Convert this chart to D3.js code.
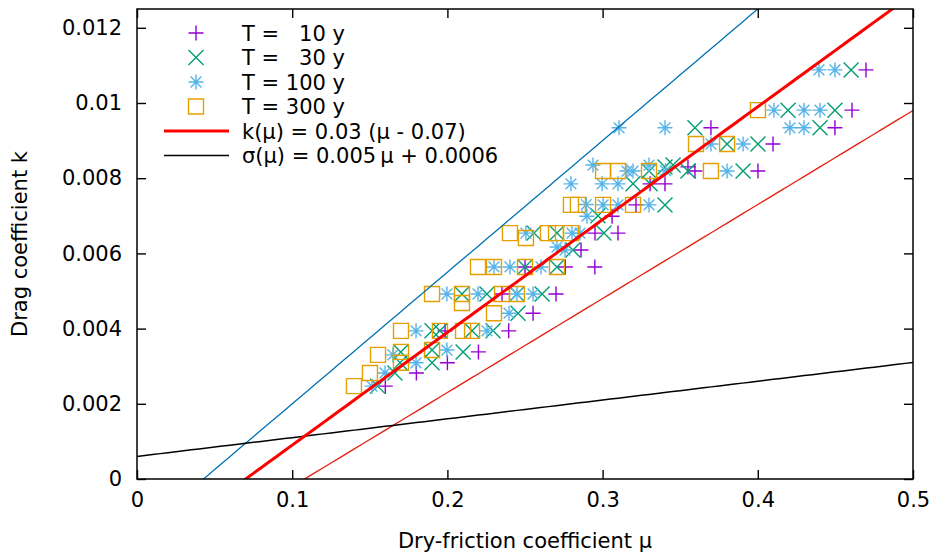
<!DOCTYPE html>
<html><head><meta charset="utf-8">
<script src="https://cdn.jsdelivr.net/npm/d3@7"></script>
<style>
html,body{margin:0;padding:0;background:#fff;}
text{font-family:"DejaVu Sans",sans-serif;}
</style></head>
<body><svg id="c" width="934" height="556"></svg>
<script>
// ---- data: [mu, k] pairs ----
const seriesLabels = ["T =   10 y", "T =   30 y", "T = 100 y", "T = 300 y"];
const t10 = [[0.160,0.00247],[0.180,0.00282],[0.200,0.00309],[0.220,0.00338],[0.1985,0.00394],[0.2395,0.00394],
 [0.2552,0.00441],[0.2352,0.00492],[0.270,0.00492],[0.250,0.00564],[0.276,0.00564],[0.295,0.00564],[0.2861,0.00609],
 [0.2951,0.00654],[0.3099,0.00654],[0.3061,0.00699],[0.3215,0.00729],[0.3306,0.00785],[0.3402,0.00785],
 [0.355,0.0083],[0.3595,0.00819],[0.4001,0.00819],[0.3698,0.00934],[0.4098,0.00891],[0.4497,0.00934],
 [0.4607,0.00981],[0.4697,0.01088]];
const t30 = [[0.155,0.00247],[0.1662,0.00282],[0.1695,0.00309],[0.1901,0.00309],[0.170,0.00338],[0.1901,0.00343],
 [0.2101,0.00338],[0.1901,0.00394],[0.1952,0.00394],[0.2159,0.00394],[0.2294,0.00394],[0.2455,0.00441],
 [0.2094,0.00492],[0.2255,0.00492],[0.2448,0.00492],[0.2610,0.00492],[0.250,0.00564],[0.2706,0.00564],
 [0.2809,0.00609],[0.2558,0.00654],[0.2706,0.00654],[0.3009,0.00654],[0.297,0.0070],[0.3402,0.00729],
 [0.3196,0.00785],[0.3306,0.00785],[0.3299,0.00819],[0.3402,0.0083],[0.3454,0.00835],[0.355,0.00819],[0.3905,0.00819],
 [0.3595,0.00934],[0.3802,0.00891],[0.4001,0.00891],[0.4401,0.00934],[0.4195,0.00981],[0.4497,0.00981],[0.4601,0.01088]];
const t100 = [[0.1514,0.00247],[0.1598,0.00282],[0.1649,0.0033],[0.1798,0.00309],[0.1997,0.00343],[0.1798,0.00394],
 [0.2255,0.00394],[0.2397,0.00441],[0.1997,0.00492],[0.2197,0.00492],[0.2448,0.00492],[0.2552,0.00492],
 [0.230,0.00564],[0.2403,0.00564],[0.2603,0.00564],[0.2706,0.00617],[0.2758,0.00609],[0.2506,0.00654],
 [0.2803,0.00654],[0.2854,0.00654],[0.2899,0.00699],[0.2895,0.0073],[0.3003,0.00729],[0.3099,0.00729],[0.3299,0.00729],
 [0.2796,0.00785],[0.2997,0.00785],[0.3099,0.00785],[0.2938,0.00835],[0.3157,0.00819],[0.3196,0.00819],
 [0.3299,0.00835],[0.3405,0.0082],[0.3802,0.00819],[0.3106,0.00934],[0.3402,0.00934],[0.3698,0.00891],
 [0.3905,0.00891],[0.4207,0.00934],[0.4298,0.00934],[0.4104,0.00981],[0.4298,0.00981],[0.4401,0.00981],
 [0.4394,0.01088],[0.4497,0.01088]];
const t300 = [[0.1398,0.00247],[0.1501,0.00282],[0.1553,0.0033],[0.1701,0.00338],[0.1701,0.00309],[0.1901,0.00343],
 [0.1701,0.00394],[0.1952,0.00394],[0.2101,0.00394],[0.2159,0.00394],[0.230,0.00441],[0.1901,0.00492],
 [0.2094,0.00492],[0.2094,0.00468],[0.2352,0.00492],[0.2448,0.00492],[0.2197,0.00564],[0.230,0.00564],
 [0.250,0.00564],[0.2706,0.00564],[0.2403,0.00654],[0.2506,0.00641],[0.2648,0.00654],[0.270,0.00654],
 [0.2796,0.00654],[0.2796,0.00729],[0.2841,0.00729],[0.3003,0.00729],[0.3196,0.00729],[0.3003,0.00819],
 [0.3099,0.00819],[0.3299,0.00819],[0.3698,0.00819],[0.3602,0.00891],[0.3802,0.00891],[0.4001,0.00981]];
const lineLabels = ["k(\u03bc) = 0.03 (\u03bc - 0.07)", "\u03c3(\u03bc) = 0.005\u2009\u03bc + 0.0006"];
const xTicks = [0, 0.1, 0.2, 0.3, 0.4, 0.5];
const xTickLabels = ["0", "0.1", "0.2", "0.3", "0.4", "0.5"];
const yTicks = [0, 0.002, 0.004, 0.006, 0.008, 0.01, 0.012];
const yTickLabels = ["0", "0.002", "0.004", "0.006", "0.008", "0.01", "0.012"];
const xTitle = "Dry-friction coefficient \u03bc";
const yTitle = "Drag coefficient k";
// fit parameters
const kA = 0.03, kMu0 = 0.07, sA = 0.005, sB = 0.0006;

// ---- drawing ----
const svg = d3.select("#c");
const L = 137, R = 913, T = 9, B = 479;
const x = d3.scaleLinear().domain([0, 0.5]).range([L, R]);
const y = d3.scaleLinear().domain([0, 0.0125]).range([B, T]);
const FS = 21;

svg.append("defs").append("clipPath").attr("id","clip")
  .append("rect").attr("x",L).attr("y",T).attr("width",R-L).attr("height",B-T);

const colors = ["#9400d3", "#009e73", "#56b4e9", "#e69f00"];
const h = 7.5;
const shapes = [
  `M${-h},0H${h}M0,${-h}V${h}`,
  `M${-h},${-h}L${h},${h}M${-h},${h}L${h},${-h}`,
  `M${-h},0H${h}M0,${-h}V${h}M${-h*0.72},${-h*0.72}L${h*0.72},${h*0.72}M${-h*0.72},${h*0.72}L${h*0.72},${-h*0.72}`,
  `M${-h},${-h}H${h}V${h}H${-h}Z`
];
const allSeries = [t10, t30, t100, t300];

const plot = svg.append("g").attr("clip-path","url(#clip)");
allSeries.forEach((s, i) => {
  plot.append("g").selectAll("path").data(s).join("path")
    .attr("transform", d => `translate(${x(d[0])},${y(d[1])})`)
    .attr("d", shapes[i]).attr("fill","none")
    .attr("stroke", colors[i]).attr("stroke-width", 1.4);
});

const muGrid = d3.range(0, 0.5001, 0.005);
const kf = m => kA * (m - kMu0);
const sf = m => sA * m + sB;
const ln = d3.line().x(d => x(d[0])).y(d => y(d[1]));
const lines = [
  {f: m => kf(m) + sf(m), c: "#0072b2", w: 1.3},
  {f: m => kf(m) - sf(m), c: "#e51e10", w: 1.3},
  {f: sf, c: "#000000", w: 1.5},
  {f: kf, c: "#ff0000", w: 3}
];
lines.forEach(l => {
  plot.append("path").datum(muGrid.map(m => [m, l.f(m)]))
    .attr("d", ln).attr("fill","none").attr("stroke", l.c).attr("stroke-width", l.w);
});

// axes
const ax = svg.append("g").attr("transform",`translate(0,${B})`)
  .call(d3.axisBottom(x).tickValues(xTicks).tickFormat((d,i)=>xTickLabels[i]).tickSizeInner(-9).tickSizeOuter(0).tickPadding(13));
const ay = svg.append("g").attr("transform",`translate(${L},0)`)
  .call(d3.axisLeft(y).tickValues(yTicks).tickFormat((d,i)=>yTickLabels[i]).tickSizeInner(-9).tickSizeOuter(0).tickPadding(15));
const at = svg.append("g").attr("transform",`translate(0,${T})`)
  .call(d3.axisTop(x).tickValues(xTicks).tickFormat("").tickSizeInner(-9).tickSizeOuter(0));
const ar = svg.append("g").attr("transform",`translate(${R},0)`)
  .call(d3.axisRight(y).tickValues(yTicks).tickFormat("").tickSizeInner(-9).tickSizeOuter(0));
[ax, ay, at, ar].forEach(g => {
  g.select(".domain").remove();
  g.selectAll("line").attr("stroke","#000").attr("stroke-width",1.4);
  g.selectAll("text").attr("font-size",FS).attr("font-family","DejaVu Sans").attr("fill","#000");
});
svg.append("rect").attr("x",L).attr("y",T).attr("width",R-L).attr("height",B-T)
  .attr("fill","none").attr("stroke","#000").attr("stroke-width",1.5);

svg.append("text").attr("x",(L+R)/2).attr("y",548).attr("text-anchor","middle")
  .attr("font-size",FS).text(xTitle);
svg.append("text").attr("transform",`translate(27,${(T+B)/2}) rotate(-90)`).attr("text-anchor","middle")
  .attr("font-size",FS).text(yTitle);

// legend
const lg = svg.append("g");
const rowY = i => 33 + i * 24.5;
seriesLabels.forEach((lab, i) => {
  lg.append("path").attr("transform",`translate(196,${rowY(i)})`).attr("d", shapes[i])
    .attr("fill","none").attr("stroke",colors[i]).attr("stroke-width",1.4);
  lg.append("text").attr("x",242).attr("y",rowY(i)).attr("dy","0.36em")
    .attr("font-size",FS).style("white-space","pre").text(lab);
});
[{c:"#ff0000",w:3},{c:"#000",w:1.5}].forEach((s, j) => {
  const yy = rowY(4 + j);
  lg.append("line").attr("x1",164).attr("x2",229).attr("y1",yy).attr("y2",yy)
    .attr("stroke",s.c).attr("stroke-width",s.w);
  lg.append("text").attr("x",242).attr("y",yy).attr("dy","0.36em")
    .attr("font-size",FS).style("white-space","pre").text(lineLabels[j]);
});
</script></body></html>
